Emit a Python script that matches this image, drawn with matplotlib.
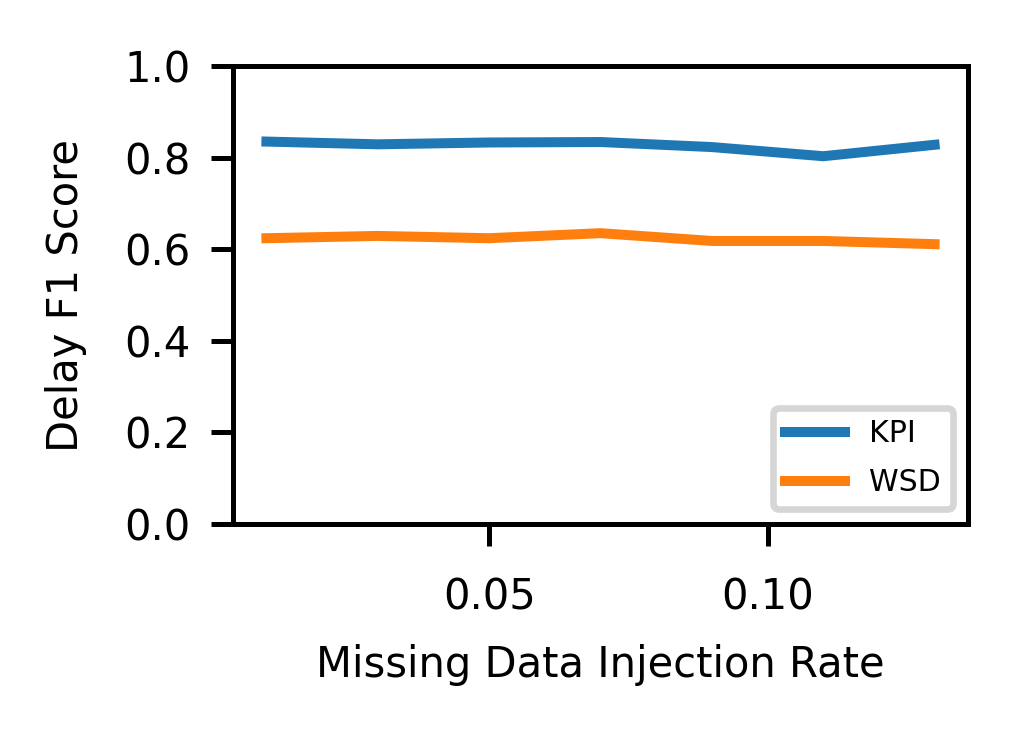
import matplotlib
matplotlib.use("Agg")
import matplotlib.pyplot as plt

# 缺失数据注入率
rates = [0.01, 0.03, 0.05, 0.07, 0.09, 0.11, 0.13]
kpi_f1 = [0.835, 0.829, 0.833, 0.834, 0.823, 0.803, 0.828]
wsd_f1 = [0.624, 0.629, 0.624, 0.635, 0.618, 0.618, 0.611]

fig = plt.figure(figsize=(1018 / 300, 733 / 300), dpi=300)
ax = fig.add_axes((233 / 1018, 1 - 524 / 733, 735 / 1018, 458 / 733))

ax.plot(rates, kpi_f1, label="KPI", color="#1f77b4", linewidth=2.4)
ax.plot(rates, wsd_f1, label="WSD", color="#ff7f0e", linewidth=2.4)

ax.set_ylim(0, 1.0)
ax.set_xticks([0.05, 0.10])
ax.set_xticklabels(["0.05", "0.10"])
ax.set_yticks([0, 0.2, 0.4, 0.6, 0.8, 1.0])
ax.set_yticklabels(["0.0", "0.2", "0.4", "0.6", "0.8", "1.0"])
ax.tick_params(axis="both", labelsize=10, length=5.2, width=1.2)
ax.tick_params(axis="x", pad=7.5)
ax.tick_params(axis="y", pad=5)
for sp in ax.spines.values():
    sp.set_linewidth(1.2)

ax.set_xlabel("Missing Data Injection Rate", fontsize=10, labelpad=6)
ax.set_ylabel("Delay F1 Score", fontsize=10, labelpad=9)

leg = ax.legend(loc="lower right", fontsize=7.2, handlelength=2.0,
                labelspacing=0.65, borderaxespad=0.5)
leg.get_frame().set_linewidth(1.6)

fig.savefig("out.png", dpi=300)
